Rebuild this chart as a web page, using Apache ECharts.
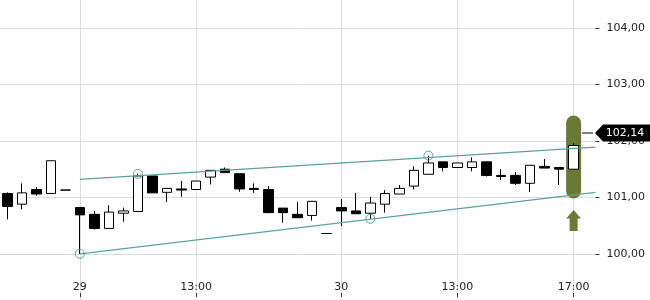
<!DOCTYPE html>
<html>
<head>
<meta charset="utf-8">
<script src="https://cdn.jsdelivr.net/npm/echarts@6/dist/echarts.min.js"></script>
<style>
  html, body { margin: 0; padding: 0; background: #fff; }
  #chart { width: 650px; height: 300px; }
</style>
</head>
<body>
<div id="chart"></div>
<script>
// 30 minute bars, last slot is still empty
const times = [
  '28 15:30', '28 16:00', '28 16:30', '28 17:00', '28 17:30',
  '29 09:00', '29 09:30', '29 10:00', '29 10:30', '29 11:00', '29 11:30',
  '29 12:00', '29 12:30', '29 13:00', '29 13:30', '29 14:00', '29 14:30',
  '29 15:00', '29 15:30', '29 16:00', '29 16:30', '29 17:00', '29 17:30',
  '30 09:00', '30 09:30', '30 10:00', '30 10:30', '30 11:00', '30 11:30',
  '30 12:00', '30 12:30', '30 13:00', '30 13:30', '30 14:00', '30 14:30',
  '30 15:00', '30 15:30', '30 16:00', '30 16:30', '30 17:00', '30 17:30'
];

// [open, close, low, high]
const ohlc = [
  [101.07, 100.84, 100.61, 101.09],
  [100.88, 101.08, 100.79, 101.25],
  [101.14, 101.06, 101.03, 101.18],
  [101.07, 101.65, 101.07, 101.65],
  [101.13, 101.13, 101.13, 101.13],
  [100.82, 100.69, 100.00, 100.82],
  [100.70, 100.45, 100.43, 100.76],
  [100.45, 100.74, 100.45, 100.86],
  [100.72, 100.76, 100.57, 100.82],
  [100.75, 101.38, 100.75, 101.42],
  [101.38, 101.08, 101.08, 101.38],
  [101.09, 101.16, 100.92, 101.16],
  [101.15, 101.13, 101.01, 101.29],
  [101.14, 101.29, 101.14, 101.29],
  [101.36, 101.48, 101.23, 101.48],
  [101.50, 101.44, 101.44, 101.53],
  [101.42, 101.15, 101.10, 101.42],
  [101.16, 101.14, 101.08, 101.25],
  [101.14, 100.73, 100.72, 101.20],
  [100.81, 100.73, 100.55, 100.81],
  [100.70, 100.64, 100.64, 100.92],
  [100.68, 100.93, 100.59, 100.93],
  [100.36, 100.36, 100.36, 100.36],
  [100.82, 100.76, 100.49, 100.97],
  [100.76, 100.71, 100.71, 101.08],
  [100.72, 100.90, 100.62, 101.01],
  [100.88, 101.07, 100.73, 101.13],
  [101.06, 101.16, 101.06, 101.22],
  [101.20, 101.48, 101.14, 101.55],
  [101.41, 101.61, 101.41, 101.74],
  [101.63, 101.53, 101.46, 101.63],
  [101.53, 101.61, 101.53, 101.61],
  [101.53, 101.63, 101.46, 101.71],
  [101.63, 101.39, 101.37, 101.63],
  [101.39, 101.37, 101.31, 101.50],
  [101.39, 101.25, 101.22, 101.45],
  [101.25, 101.57, 101.10, 101.57],
  [101.55, 101.52, 101.52, 101.68],
  [101.53, 101.50, 101.22, 101.53],
  [101.50, 101.92, 101.50, 101.96]
];

const labelTimes = ['29 09:00', '29 13:00', '30 09:00', '30 13:00', '30 17:00'];
const labelTexts = ['29', '13:00', '30', '13:00', '17:00'];
const yMin = 99, yMax = 105, yStep = 1;

// trend channel, x in bar index units
const upperLine = [[5, 101.32], [40.5, 101.89]];
const lowerLine = [[5, 100.00], [40.5, 101.09]];
const touches = [[5, 100.00], [9, 101.42], [25, 100.62], [29, 101.74]];

const lastPrice = 102.14;
const signalBar = [[39, 100.98, 102.45]];
const signalArrow = [[39, 100.59]];

const TEAL = '#5f9fa3';
const OLIVE = '#6a7a35';
const GRID = '#dcdcdc';
const fmt = v => v.toFixed(2).replace('.', ',');
const isLabel = (i, v) => labelTimes.indexOf(v) >= 0;

const chart = echarts.init(document.getElementById('chart'));
chart.setOption({
  animation: false,
  textStyle: { fontFamily: 'DejaVu Sans' },
  grid: [
    // price pane runs past the canvas so 99 and 105 fall outside it
    { left: 0, right: 54.6, top: -28.2, bottom: -10.2, outerBoundsMode: 'none' },
    // strip for the time labels
    { left: 0, right: 54.6, top: 282, bottom: 7, outerBoundsMode: 'none' }
  ],
  xAxis: [{
    type: 'category',
    gridIndex: 0,
    data: times,
    position: 'bottom',
    axisLine: { show: false, onZero: false },
    axisTick: { show: false },
    axisLabel: { show: false },
    splitLine: { show: true, interval: isLabel, alignWithLabel: true, lineStyle: { color: GRID } }
  }, {
    type: 'value',
    gridIndex: 0,
    min: -0.5,
    max: 40.5,
    position: 'top',
    show: false,
    axisLine: { onZero: false }
  }, {
    type: 'category',
    gridIndex: 1,
    data: times,
    position: 'bottom',
    axisLine: { show: false, onZero: false },
    axisTick: { show: true, interval: isLabel, alignWithLabel: true, length: 4, lineStyle: { color: '#333' } },
    axisLabel: {
      inside: true,
      interval: isLabel,
      margin: 0,
      fontSize: 11,
      lineHeight: 11,
      color: '#222',
      formatter: v => labelTexts[labelTimes.indexOf(v)]
    },
    splitLine: { show: false }
  }],
  yAxis: [{
    type: 'value',
    gridIndex: 0,
    position: 'right',
    min: yMin,
    max: yMax,
    interval: yStep,
    axisLine: { show: false, onZero: false },
    axisTick: { show: true, length: 4, lineStyle: { color: '#333' } },
    axisLabel: { margin: 11, fontSize: 11, color: '#222', formatter: fmt },
    splitLine: { show: true, lineStyle: { color: GRID } }
  }, {
    type: 'value',
    gridIndex: 1,
    show: false,
    axisLine: { onZero: false }
  }],
  series: [{
    type: 'custom',
    xAxisIndex: 1,
    z: 1,
    data: signalBar,
    encode: { x: 0, y: [1, 2] },
    renderItem: (params, api) => {
      const top = api.coord([api.value(0), api.value(2)]);
      const bottom = api.coord([api.value(0), api.value(1)]);
      const w = 15;
      return {
        type: 'rect',
        shape: { x: top[0] - w / 2, y: top[1], width: w, height: bottom[1] - top[1], r: w / 2 },
        style: { fill: OLIVE }
      };
    }
  }, {
    type: 'candlestick',
    xAxisIndex: 0,
    z: 2,
    barWidth: 10,
    data: ohlc,
    itemStyle: { color: '#fff', color0: '#000', borderColor: '#000', borderColor0: '#000', borderWidth: 1 }
  }, {
    type: 'line',
    xAxisIndex: 1,
    z: 3,
    data: upperLine,
    symbol: 'none',
    lineStyle: { color: TEAL, width: 1.2 }
  }, {
    type: 'line',
    xAxisIndex: 1,
    z: 3,
    data: lowerLine,
    symbol: 'none',
    lineStyle: { color: TEAL, width: 1.2 }
  }, {
    type: 'scatter',
    xAxisIndex: 1,
    z: 4,
    data: touches,
    symbol: 'circle',
    symbolSize: 9,
    itemStyle: { color: 'rgba(0,0,0,0)', borderColor: TEAL, borderWidth: 1, opacity: 1 }
  }, {
    type: 'scatter',
    xAxisIndex: 1,
    z: 4,
    data: signalArrow,
    symbol: 'path://M7.5,0 L15,8.5 H11.5 V21 H3.5 V8.5 H0 Z',
    symbolSize: [15, 21],
    itemStyle: { color: OLIVE, opacity: 1 }
  }, {
    type: 'scatter',
    xAxisIndex: 1,
    z: 5,
    clip: false,
    data: [[40.5, lastPrice]],
    symbol: 'path://M0,8 H11 V9 H0 Z M13,8.5 L21,0 H68 V17 H21 Z',
    symbolSize: [68, 17],
    symbolOffset: [20.6, 0],
    itemStyle: { color: '#000', opacity: 1 },
    label: {
      show: true,
      position: 'inside',
      offset: [9, 0],
      color: '#fff',
      fontSize: 11,
      formatter: () => fmt(lastPrice)
    }
  }]
});
</script>
</body>
</html>
